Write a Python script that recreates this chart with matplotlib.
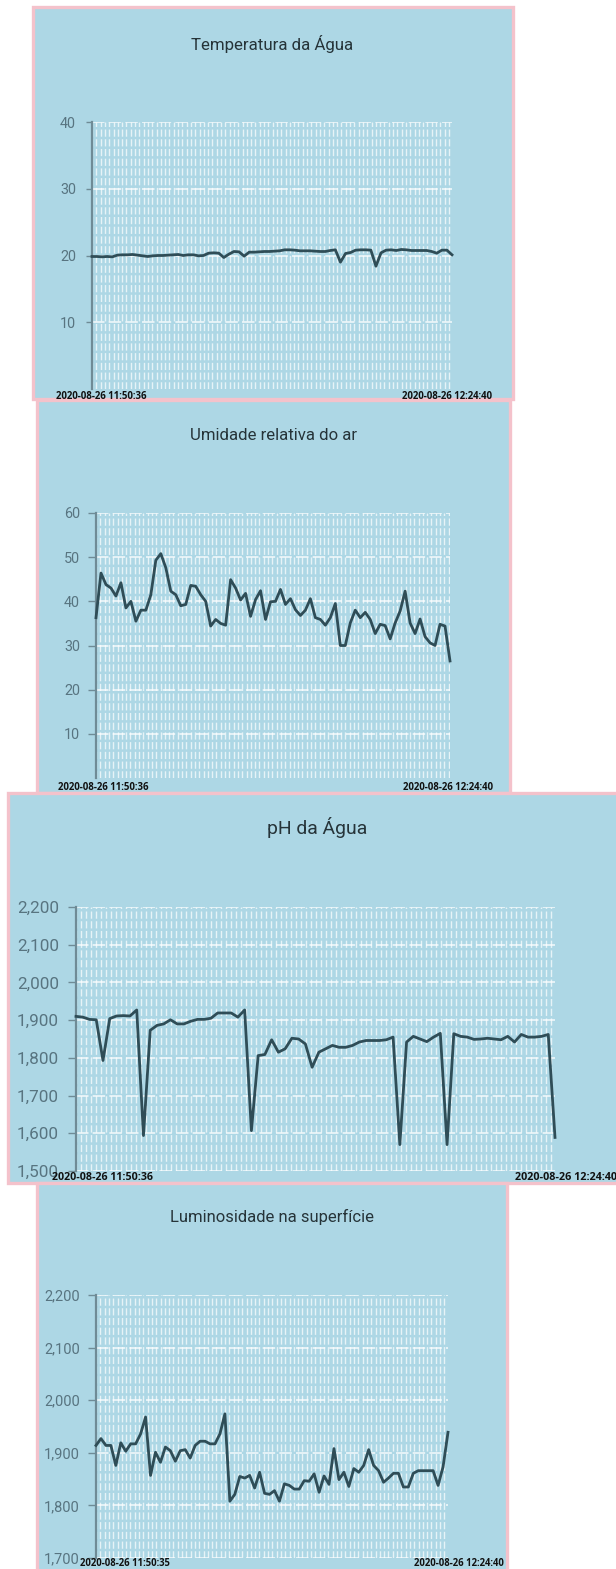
import matplotlib
matplotlib.use("Agg")
import matplotlib.pyplot as plt
from matplotlib.patches import Rectangle
from matplotlib.ticker import FuncFormatter, MultipleLocator

plt.rcParams['lines.scale_dashes'] = False

# ---------------- data ----------------
titulos = ["Temperatura da Água", "Umidade relativa do ar", "pH da Água",
           "Luminosidade na superfície"]

temperatura = [19.85, 19.85, 19.8, 19.85, 19.8, 20.05, 20.1, 20.1, 20.15, 20.05,
               19.95, 19.85, 19.95, 20.0, 20.0, 20.05, 20.1, 20.15, 20.0, 20.1,
               20.1, 19.95, 20.0, 20.35, 20.4, 20.35, 19.7, 20.2, 20.6, 20.55,
               19.9, 20.5, 20.5, 20.55, 20.6, 20.6, 20.65, 20.7, 20.85, 20.85,
               20.8, 20.7, 20.7, 20.7, 20.65, 20.6, 20.6, 20.75, 20.85, 19.0,
               20.3, 20.45, 20.8, 20.85, 20.85, 20.8, 18.4, 20.4, 20.8, 20.85,
               20.75, 20.9, 20.85, 20.75, 20.75, 20.75, 20.75, 20.6, 20.35, 20.8,
               20.8, 20.1]

umidade = [36.3, 46.4, 43.8, 43.0, 41.2, 44.2, 38.5, 40.0, 35.5, 38.0,
           38.0, 41.5, 49.3, 50.8, 47.6, 42.3, 41.5, 39.0, 39.3, 43.6,
           43.4, 41.5, 40.0, 34.4, 35.9, 35.0, 34.6, 44.9, 43.0, 40.3,
           41.8, 36.6, 40.4, 42.4, 35.9, 39.9, 40.0, 42.7, 39.3, 40.6,
           38.1, 36.8, 38.0, 40.6, 36.3, 35.9, 34.6, 36.3, 39.5, 30.0,
           30.0, 35.1, 38.0, 36.3, 37.5, 35.9, 32.7, 34.8, 34.5, 31.5,
           35.1, 37.8, 42.3, 35.1, 32.7, 36.0, 32.0, 30.6, 30.0, 34.8,
           34.4, 26.5]

ph = [1910, 1908, 1902, 1901, 1793, 1904, 1911, 1912, 1911, 1927,
      1594, 1873, 1886, 1890, 1901, 1890, 1890, 1897, 1902, 1902,
      1905, 1919, 1919, 1919, 1908, 1927, 1607, 1806, 1809, 1848,
      1815, 1824, 1852, 1850, 1837, 1775, 1815, 1824, 1833, 1828,
      1828, 1833, 1842, 1846, 1846, 1846, 1848, 1855, 1570, 1842,
      1857, 1850, 1843, 1855, 1865, 1570, 1864, 1857, 1855, 1849,
      1850, 1852, 1850, 1848, 1857, 1842, 1862, 1855, 1855, 1857,
      1862, 1589]

luminosidade = [1914, 1927, 1914, 1914, 1876, 1919, 1903, 1917, 1917, 1936,
                1968, 1857, 1901, 1882, 1911, 1904, 1884, 1904, 1906, 1890,
                1914, 1922, 1922, 1917, 1917, 1936, 1974, 1808, 1821, 1855,
                1852, 1857, 1833, 1863, 1823, 1821, 1828, 1808, 1841, 1838,
                1831, 1831, 1847, 1846, 1860, 1825, 1856, 1840, 1908, 1849,
                1863, 1836, 1870, 1863, 1876, 1906, 1876, 1866, 1844, 1852,
                1861, 1861, 1835, 1835, 1861, 1866, 1866, 1866, 1866, 1838,
                1873, 1939]

yticks_temp = [10, 20, 30, 40]
yticks_umid = [10, 20, 30, 40, 50, 60]
yticks_ph = [1500, 1600, 1700, 1800, 1900, 2000, 2100, 2200]
yticks_lum = [1700, 1800, 1900, 2000, 2100, 2200]

ylim_temp = (0, 40)
ylim_umid = (0, 60)
ylim_ph = (1500, 2200)
ylim_lum = (1700, 2200)

rotulos_inicio = ["2020-08-26 11:50:36", "2020-08-26 11:50:36",
                  "2020-08-26 11:50:36", "2020-08-26 11:50:35"]
rotulo_fim = "2020-08-26 12:24:40"

# ---------------- layout ----------------
W, H, DPI = 616, 1569, 100
BLUE = "#add7e5"
PINK = "#f4c2cb"
LINE = "#2f4d57"
TICKC = "#587480"
TITLEC = "#263439"

fig = plt.figure(figsize=(W / DPI, H / DPI), dpi=DPI, facecolor="white")
renderer = fig.canvas.get_renderer()


def rect_fig(x0, y0, x1, y1):
    return [x0 / W, 1 - y1 / H, (x1 - x0) / W, (y1 - y0) / H]


def fit_width(txt, target):
    bb = txt.get_window_extent(renderer)
    txt.set_fontsize(txt.get_fontsize() * target / bb.width)


panels = [
    dict(box=(33, 7, 513, 399), ax=(92, 122, 452, 389), title=(272, 44, 163),
         tfs=10.4, tlen=6, tpad=10, lab=(9.5, -5, -7.5, 91), data=temperatura,
         yt=yticks_temp, yl=ylim_temp, fmt="{:.0f}", gstep=4.3),
    dict(box=(37, 400, 510, 793), ax=(96, 513, 450, 778), title=(273, 435, 167),
         tfs=10.4, tlen=8, tpad=8, lab=(7, -2, -9, 91), data=umidade,
         yt=yticks_umid, yl=ylim_umid, fmt="{:.0f}", gstep=4.3),
    dict(box=(8, 793, 640, 1183), ax=(76, 907, 555, 1171), title=(317, 828, 100),
         tfs=12.3, tlen=8, tpad=9, lab=(26, 11, -6, 101), data=ph,
         yt=yticks_ph, yl=ylim_ph, fmt="{:,.0f}", gstep=5.0),
    dict(box=(37, 1183, 507, 1600), ax=(96, 1295, 448, 1558), title=(272, 1217, 204),
         tfs=10.5, tlen=8, tpad=8, lab=(29, 11, -5, 90), data=luminosidade,
         yt=yticks_lum, yl=ylim_lum, fmt="{:,.0f}", gstep=4.3),
]

for i, p in enumerate(panels):
    x0, y0, x1, y1 = p["box"]
    fig.add_artist(Rectangle((x0 / W, 1 - y1 / H), (x1 - x0) / W, (y1 - y0) / H,
                             transform=fig.transFigure, facecolor=BLUE,
                             edgecolor=PINK, lw=2.4, zorder=-10 + i))

    ax = fig.add_axes(rect_fig(*p["ax"]))
    ax.set_facecolor("none")
    ax.set_zorder(1 + i)
    vals = p["data"]
    xs = list(range(len(vals)))
    n = len(vals) - 1
    ax.set_xlim(0, n)
    ax.set_ylim(*p["yl"])

    # grid
    axw = p["ax"][2] - p["ax"][0]
    step = p["gstep"] * n / axw
    ax.set_xticks([])
    ax.xaxis.set_minor_locator(MultipleLocator(step))
    ax.tick_params(axis="x", which="both", length=0, labelbottom=False)
    ax.grid(which="minor", axis="x", color="white", alpha=0.7, lw=1.0,
            linestyle=(0, (5.2, 1.8)), zorder=0)
    ax.set_yticks(p["yt"])
    ax.yaxis.set_major_formatter(FuncFormatter(lambda v, pos, f=p["fmt"]: f.format(v)))
    ax.grid(which="major", axis="y", color="white", alpha=0.8, lw=1.2,
            linestyle=(0, (9, 3)), zorder=0)
    ax.set_axisbelow(True)

    for s in ["top", "right", "bottom"]:
        ax.spines[s].set_visible(False)
    ax.spines["left"].set_color("#6f8b96")
    ax.spines["left"].set_linewidth(1.6)
    ax.tick_params(axis="y", which="major", length=p["tlen"] * 0.72, width=1.0,
                   color="#6f8b96", pad=p["tpad"] * 0.72, labelsize=p["tfs"],
                   labelcolor=TICKC)
    for lbl in ax.get_yticklabels():
        lbl.set_fontfamily("Roboto")

    ax.plot(xs, vals, color=LINE, lw=2.0, solid_joinstyle="round", zorder=3,
            clip_on=False)

    # title
    tx, ty, tw = p["title"]
    t = fig.text(tx / W, 1 - ty / H, titulos[i], ha="center", va="center",
                 fontsize=12, family="Roboto", color=TITLEC)
    fit_width(t, tw)

    # date labels
    dl, dr, dy, lw_ = p["lab"]
    a1 = ax.annotate(rotulos_inicio[i], xy=(0, 0), xycoords=("data", "axes fraction"),
                     xytext=(dl, dy), textcoords="offset pixels", ha="center",
                     va="center", fontsize=7, family="Open Sans", weight="bold",
                     color="#111111", annotation_clip=False)
    a2 = ax.annotate(rotulo_fim, xy=(n, 0), xycoords=("data", "axes fraction"),
                     xytext=(dr, dy), textcoords="offset pixels", ha="center",
                     va="center", fontsize=7, family="Open Sans", weight="bold",
                     color="#111111", annotation_clip=False)
    fit_width(a1, lw_)
    fit_width(a2, lw_)

fig.savefig("out.png", dpi=DPI, facecolor="white")
